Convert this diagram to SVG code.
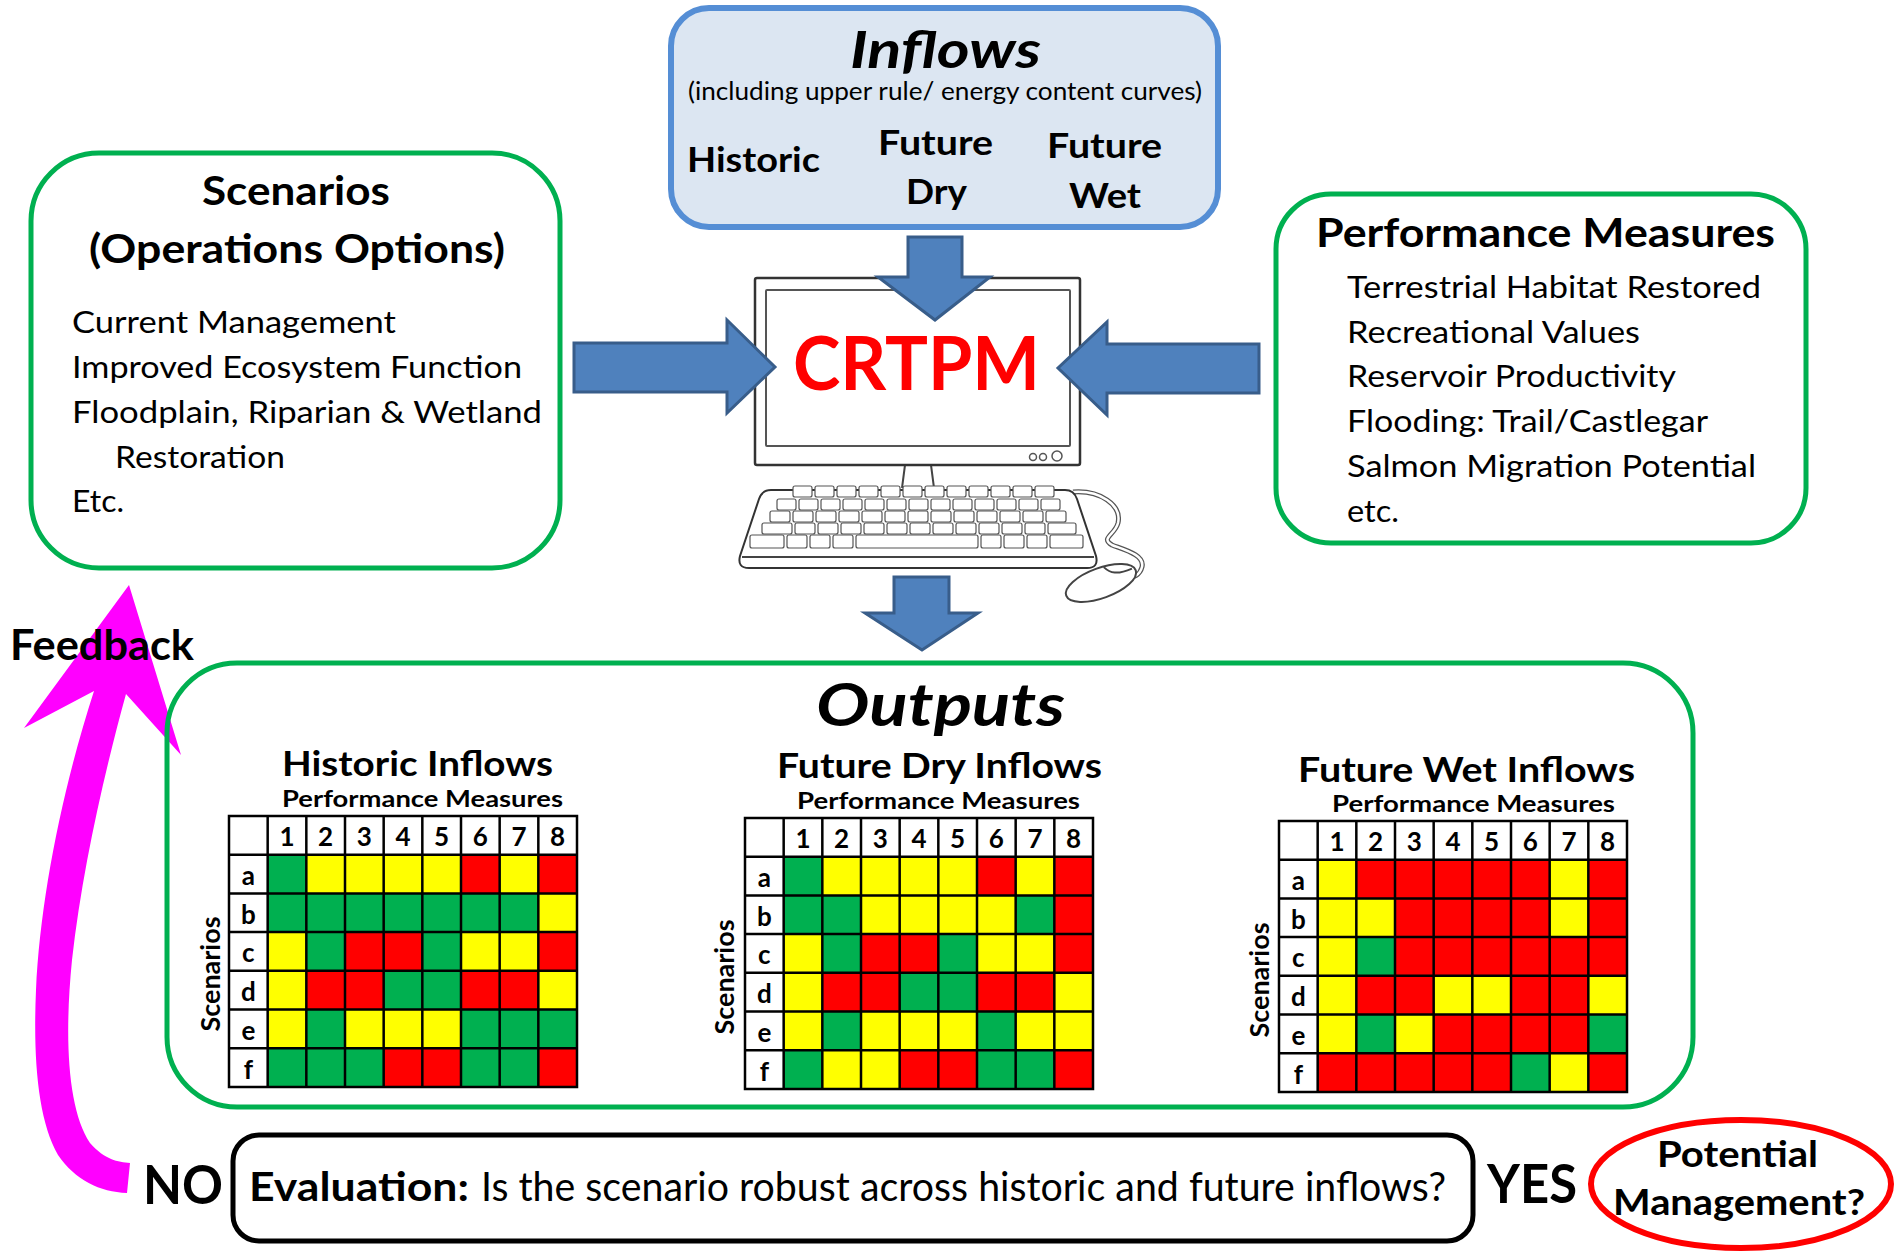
<svg xmlns="http://www.w3.org/2000/svg" xmlns:xlink="http://www.w3.org/1999/xlink" width="1904" height="1251" viewBox="0 0 1904 1251">
<style>
  .t{font-family:Lato,'Open Sans','Liberation Sans',sans-serif;fill:#000}
  .b{font-weight:700}
  .it{font-style:italic}
  .g{fill:#00B050}.y{fill:#FFFF00}.r{fill:#FF0000}
  .grid{fill:none;stroke:#000;stroke-width:2.5;stroke-linecap:square}
  .gbox{fill:#fff;stroke:#00B050;stroke-width:5}
  .arrow{fill:#4F81BD;stroke:#385D8A;stroke-width:3;stroke-linejoin:miter}
  .key{fill:#fff;stroke:#555;stroke-width:1.2}
  .line{fill:none;stroke:#444;stroke-width:2}
  .hd{font-family:Lato,'Open Sans','Liberation Sans',sans-serif;font-size:26px;font-weight:700;text-anchor:middle;fill:#000}
  .item{font-family:Lato,'Open Sans','Liberation Sans',sans-serif;font-size:30px;fill:#000}
</style>
<defs>
  <!-- 9 x 7 table lines, cells 38.67 x 38.7 -->
  <path id="gridlines" class="grid" d="M0,0V270.9M38.67,0V270.9M77.33,0V270.9M116,0V270.9M154.67,0V270.9M193.33,0V270.9M232,0V270.9M270.67,0V270.9M309.33,0V270.9M348,0V270.9M0,0H348M0,38.7H348M0,77.4H348M0,116.1H348M0,154.8H348M0,193.5H348M0,232.2H348M0,270.9H348"/>
</defs>

<rect width="1904" height="1251" fill="#fff"/>

<!-- Inflows -->
<g id="inflows">
  <rect x="671" y="8" width="547" height="219" rx="38" fill="#DCE6F2" stroke="#558ED5" stroke-width="6"/>
  <text class="t b it" x="850" y="68" font-size="52" textLength="191" lengthAdjust="spacingAndGlyphs">Inflows</text>
  <text class="t" x="688" y="100" font-size="25" textLength="514" lengthAdjust="spacingAndGlyphs">(including upper rule/ energy content curves)</text>
  <text class="t b" x="687" y="172" font-size="35" textLength="133" lengthAdjust="spacingAndGlyphs">Historic</text>
  <text class="t b" x="878" y="155" font-size="35" textLength="115" lengthAdjust="spacingAndGlyphs">Future</text>
  <text class="t b" x="906" y="204" font-size="35" textLength="61" lengthAdjust="spacingAndGlyphs">Dry</text>
  <text class="t b" x="1047" y="158" font-size="35" textLength="115" lengthAdjust="spacingAndGlyphs">Future</text>
  <text class="t b" x="1069" y="208" font-size="35" textLength="72" lengthAdjust="spacingAndGlyphs">Wet</text>
</g>

<!-- Scenarios -->
<g id="scenarios">
  <rect class="gbox" x="31" y="153" width="529" height="415" rx="68"/>
  <text class="t b" x="202" y="205" font-size="40" textLength="188" lengthAdjust="spacingAndGlyphs">Scenarios</text>
  <text class="t b" x="89" y="263" font-size="40" textLength="416" lengthAdjust="spacingAndGlyphs">(Operations Options)</text>
  <text class="item" x="72" y="333" textLength="324" lengthAdjust="spacingAndGlyphs">Current Management</text>
  <text class="item" x="72" y="378" textLength="450" lengthAdjust="spacingAndGlyphs">Improved Ecosystem Function</text>
  <text class="item" x="72" y="423" textLength="470" lengthAdjust="spacingAndGlyphs">Floodplain, Riparian &amp; Wetland</text>
  <text class="item" x="115" y="468" textLength="170" lengthAdjust="spacingAndGlyphs">Restoration</text>
  <text class="item" x="72" y="512" textLength="52" lengthAdjust="spacingAndGlyphs">Etc.</text>
</g>

<!-- Performance Measures -->
<g id="performance-measures">
  <rect class="gbox" x="1276" y="194" width="530" height="349" rx="55"/>
  <text class="t b" x="1316" y="247" font-size="40" textLength="459" lengthAdjust="spacingAndGlyphs">Performance Measures</text>
  <text class="item" x="1347" y="298" textLength="414" lengthAdjust="spacingAndGlyphs">Terrestrial Habitat Restored</text>
  <text class="item" x="1347" y="343" textLength="293" lengthAdjust="spacingAndGlyphs">Recreational Values</text>
  <text class="item" x="1347" y="387" textLength="329" lengthAdjust="spacingAndGlyphs">Reservoir Productivity</text>
  <text class="item" x="1347" y="432" textLength="361" lengthAdjust="spacingAndGlyphs">Flooding: Trail/Castlegar</text>
  <text class="item" x="1347" y="477" textLength="409" lengthAdjust="spacingAndGlyphs">Salmon Migration Potential</text>
  <text class="item" x="1347" y="522" textLength="52" lengthAdjust="spacingAndGlyphs">etc.</text>
</g>

<!-- CRTPM computer -->
<g id="crtpm">
  <!-- stand -->
  <path class="line" d="M905,465 L902,488 M931,465 L934,488"/>
  <!-- monitor -->
  <rect x="755" y="278" width="325" height="187" rx="2" fill="#fff" stroke="#333" stroke-width="2.5"/>
  <rect x="766" y="290" width="304" height="156" rx="1" fill="#fff" stroke="#555" stroke-width="2"/>
  <circle cx="1033" cy="457" r="3.5" fill="none" stroke="#555" stroke-width="1.5"/>
  <circle cx="1043" cy="457" r="3.5" fill="none" stroke="#555" stroke-width="1.5"/>
  <circle cx="1057" cy="456" r="5" fill="none" stroke="#555" stroke-width="1.5"/>
  <!-- mouse cable -->
  <path d="M1073,492 C1100,490 1122,505 1118,523 C1115,535 1100,538 1112,545 C1125,550 1145,555 1142,567 C1140,575 1133,578 1128,578" fill="none" stroke="#555" stroke-width="5"/>
  <path d="M1073,492 C1100,490 1122,505 1118,523 C1115,535 1100,538 1112,545 C1125,550 1145,555 1142,567 C1140,575 1133,578 1128,578" fill="none" stroke="#fff" stroke-width="2.5"/>
  <!-- keyboard body -->
  <path d="M771,490 L1065,490 Q1074,490 1077,499 L1096,556 Q1099,568 1087,568 L749,568 Q737,568 740,556 L759,499 Q762,490 771,490 Z" fill="#fff" stroke="#333" stroke-width="2"/>
  <path class="line" d="M742,557 L1094,557" stroke-width="1.5"/>
  <!-- keys -->
  <g>
    <rect class="key" x="793" y="486" width="19" height="11" rx="2"/><rect class="key" x="815" y="486" width="19" height="11" rx="2"/><rect class="key" x="837" y="486" width="19" height="11" rx="2"/><rect class="key" x="859" y="486" width="19" height="11" rx="2"/><rect class="key" x="881" y="486" width="19" height="11" rx="2"/><rect class="key" x="903" y="486" width="19" height="11" rx="2"/><rect class="key" x="925" y="486" width="19" height="11" rx="2"/><rect class="key" x="947" y="486" width="19" height="11" rx="2"/><rect class="key" x="969" y="486" width="19" height="11" rx="2"/><rect class="key" x="991" y="486" width="19" height="11" rx="2"/><rect class="key" x="1013" y="486" width="19" height="11" rx="2"/><rect class="key" x="1035" y="486" width="19" height="11" rx="2"/>
    <rect class="key" x="777" y="499" width="19" height="11" rx="2"/><rect class="key" x="799" y="499" width="19" height="11" rx="2"/><rect class="key" x="821" y="499" width="19" height="11" rx="2"/><rect class="key" x="843" y="499" width="19" height="11" rx="2"/><rect class="key" x="865" y="499" width="19" height="11" rx="2"/><rect class="key" x="887" y="499" width="19" height="11" rx="2"/><rect class="key" x="909" y="499" width="19" height="11" rx="2"/><rect class="key" x="931" y="499" width="19" height="11" rx="2"/><rect class="key" x="953" y="499" width="19" height="11" rx="2"/><rect class="key" x="975" y="499" width="19" height="11" rx="2"/><rect class="key" x="997" y="499" width="19" height="11" rx="2"/><rect class="key" x="1019" y="499" width="19" height="11" rx="2"/><rect class="key" x="1041" y="499" width="19" height="11" rx="2"/>
    <rect class="key" x="770" y="511" width="20" height="11" rx="2"/><rect class="key" x="793" y="511" width="20" height="11" rx="2"/><rect class="key" x="816" y="511" width="20" height="11" rx="2"/><rect class="key" x="839" y="511" width="20" height="11" rx="2"/><rect class="key" x="862" y="511" width="20" height="11" rx="2"/><rect class="key" x="885" y="511" width="20" height="11" rx="2"/><rect class="key" x="908" y="511" width="20" height="11" rx="2"/><rect class="key" x="931" y="511" width="20" height="11" rx="2"/><rect class="key" x="954" y="511" width="20" height="11" rx="2"/><rect class="key" x="977" y="511" width="20" height="11" rx="2"/><rect class="key" x="1000" y="511" width="20" height="11" rx="2"/><rect class="key" x="1023" y="511" width="20" height="11" rx="2"/><rect class="key" x="1046" y="511" width="20" height="11" rx="2"/>
    <rect class="key" x="762" y="523" width="30" height="11" rx="2"/><rect class="key" x="795" y="523" width="20" height="11" rx="2"/><rect class="key" x="818" y="523" width="20" height="11" rx="2"/><rect class="key" x="841" y="523" width="20" height="11" rx="2"/><rect class="key" x="864" y="523" width="20" height="11" rx="2"/><rect class="key" x="887" y="523" width="20" height="11" rx="2"/><rect class="key" x="910" y="523" width="20" height="11" rx="2"/><rect class="key" x="933" y="523" width="20" height="11" rx="2"/><rect class="key" x="956" y="523" width="20" height="11" rx="2"/><rect class="key" x="979" y="523" width="20" height="11" rx="2"/><rect class="key" x="1002" y="523" width="20" height="11" rx="2"/><rect class="key" x="1025" y="523" width="20" height="11" rx="2"/><rect class="key" x="1048" y="523" width="28" height="11" rx="2"/>
    <rect class="key" x="750" y="535" width="34" height="13" rx="2"/><rect class="key" x="787" y="535" width="20" height="13" rx="2"/><rect class="key" x="810" y="535" width="20" height="13" rx="2"/><rect class="key" x="833" y="535" width="20" height="13" rx="2"/><rect class="key" x="856" y="535" width="122" height="13" rx="2"/><rect class="key" x="981" y="535" width="20" height="13" rx="2"/><rect class="key" x="1004" y="535" width="20" height="13" rx="2"/><rect class="key" x="1027" y="535" width="20" height="13" rx="2"/><rect class="key" x="1050" y="535" width="33" height="13" rx="2"/>
  </g>
  <!-- mouse -->
  <g transform="translate(1101,583) rotate(-20)">
    <ellipse cx="0" cy="0" rx="37" ry="15" fill="#fff" stroke="#444" stroke-width="2"/>
    <path class="line" d="M8,-14 C12,-6 18,-2 34,-3" stroke-width="1.5"/>
  </g>
  <text class="t b" x="793" y="390" font-size="74" style="fill:#FF0000" textLength="247" lengthAdjust="spacingAndGlyphs">CRTPM</text>
</g>

<!-- connectors: drawn over the computer, under the outputs frame -->
<g id="connectors">
  <path id="arrow-inflows" class="arrow" d="M908,237 L962,237 L962,277 L990,277 L935,320 L878,277 L908,277 Z"/>
  <path id="arrow-scenarios" class="arrow" d="M574,343 L727,343 L727,320 L775,367 L727,413 L727,392 L574,392 Z"/>
  <path id="arrow-measures" class="arrow" d="M1259,344 L1107,344 L1107,322 L1058,368 L1107,415 L1107,393 L1259,393 Z"/>
  <path id="arrow-outputs" class="arrow" d="M894,577 L949,577 L949,613 L978,613 L922,650 L865,613 L894,613 Z"/>
  <path id="arrow-feedback" fill="#FF00FF" d="M129,585 L181,755 L126,694 C105,770 82,870 72,960 C64,1040 68,1110 90,1143 C105,1160 118,1162 130,1163 L127,1193 C100,1192 75,1180 58,1155 C38,1120 33,1060 36,990 C40,900 62,790 94,691 L24,728 Z"/>
</g>

<!-- Outputs -->
<g id="outputs">
  <rect class="gbox" x="167" y="663" width="1526" height="444" rx="70" style="fill:none"/>
  <text class="t b it" x="816" y="726" font-size="60" textLength="249" lengthAdjust="spacingAndGlyphs">Outputs</text>

  <!-- Historic Inflows table -->
  <g id="table-historic">
    <text class="t b" x="282" y="776" font-size="34" textLength="271" lengthAdjust="spacingAndGlyphs">Historic Inflows</text>
    <text class="t b" x="282" y="807" font-size="23" textLength="281" lengthAdjust="spacingAndGlyphs">Performance Measures</text>
    <g transform="translate(229,816)">
      <rect width="348" height="270.9" fill="#fff"/>
      <rect class="g" x="38.67" y="38.7" width="38.67" height="38.7"/><rect class="y" x="77.33" y="38.7" width="154.67" height="38.7"/><rect class="r" x="232" y="38.7" width="38.67" height="38.7"/><rect class="y" x="270.67" y="38.7" width="38.67" height="38.7"/><rect class="r" x="309.33" y="38.7" width="38.67" height="38.7"/>
      <rect class="g" x="38.67" y="77.4" width="270.67" height="38.7"/><rect class="y" x="309.33" y="77.4" width="38.67" height="38.7"/>
      <rect class="y" x="38.67" y="116.1" width="38.67" height="38.7"/><rect class="g" x="77.33" y="116.1" width="38.67" height="38.7"/><rect class="r" x="116" y="116.1" width="77.33" height="38.7"/><rect class="g" x="193.33" y="116.1" width="38.67" height="38.7"/><rect class="y" x="232" y="116.1" width="77.33" height="38.7"/><rect class="r" x="309.33" y="116.1" width="38.67" height="38.7"/>
      <rect class="y" x="38.67" y="154.8" width="38.67" height="38.7"/><rect class="r" x="77.33" y="154.8" width="77.33" height="38.7"/><rect class="g" x="154.67" y="154.8" width="77.33" height="38.7"/><rect class="r" x="232" y="154.8" width="77.33" height="38.7"/><rect class="y" x="309.33" y="154.8" width="38.67" height="38.7"/>
      <rect class="y" x="38.67" y="193.5" width="38.67" height="38.7"/><rect class="g" x="77.33" y="193.5" width="38.67" height="38.7"/><rect class="y" x="116" y="193.5" width="116" height="38.7"/><rect class="g" x="232" y="193.5" width="116" height="38.7"/>
      <rect class="g" x="38.67" y="232.2" width="116" height="38.7"/><rect class="r" x="154.67" y="232.2" width="77.33" height="38.7"/><rect class="g" x="232" y="232.2" width="77.33" height="38.7"/><rect class="r" x="309.33" y="232.2" width="38.67" height="38.7"/>
      <use xlink:href="#gridlines" href="#gridlines"/>
      <text class="hd" x="58" y="30">1</text><text class="hd" x="96.67" y="30">2</text><text class="hd" x="135.33" y="30">3</text><text class="hd" x="174" y="30">4</text><text class="hd" x="212.67" y="30">5</text><text class="hd" x="251.33" y="30">6</text><text class="hd" x="290" y="30">7</text><text class="hd" x="328.67" y="30">8</text>
      <text class="hd" x="19.33" y="69">a</text><text class="hd" x="19.33" y="107.7">b</text><text class="hd" x="19.33" y="146.4">c</text><text class="hd" x="19.33" y="185.1">d</text><text class="hd" x="19.33" y="223.8">e</text><text class="hd" x="19.33" y="262.5">f</text>
      <text class="hd" transform="translate(-9,158) rotate(-90)" textLength="115" lengthAdjust="spacingAndGlyphs">Scenarios</text>
    </g>
  </g>

  <!-- Future Dry Inflows table -->
  <g id="table-future-dry">
    <text class="t b" x="777" y="778" font-size="34" textLength="325" lengthAdjust="spacingAndGlyphs">Future Dry Inflows</text>
    <text class="t b" x="797" y="809" font-size="23" textLength="283" lengthAdjust="spacingAndGlyphs">Performance Measures</text>
    <g transform="translate(745,818)">
      <rect width="348" height="270.9" fill="#fff"/>
      <rect class="g" x="38.67" y="38.7" width="38.67" height="38.7"/><rect class="y" x="77.33" y="38.7" width="154.67" height="38.7"/><rect class="r" x="232" y="38.7" width="38.67" height="38.7"/><rect class="y" x="270.67" y="38.7" width="38.67" height="38.7"/><rect class="r" x="309.33" y="38.7" width="38.67" height="38.7"/>
      <rect class="g" x="38.67" y="77.4" width="77.33" height="38.7"/><rect class="y" x="116" y="77.4" width="154.67" height="38.7"/><rect class="g" x="270.67" y="77.4" width="38.67" height="38.7"/><rect class="r" x="309.33" y="77.4" width="38.67" height="38.7"/>
      <rect class="y" x="38.67" y="116.1" width="38.67" height="38.7"/><rect class="g" x="77.33" y="116.1" width="38.67" height="38.7"/><rect class="r" x="116" y="116.1" width="77.33" height="38.7"/><rect class="g" x="193.33" y="116.1" width="38.67" height="38.7"/><rect class="y" x="232" y="116.1" width="77.33" height="38.7"/><rect class="r" x="309.33" y="116.1" width="38.67" height="38.7"/>
      <rect class="y" x="38.67" y="154.8" width="38.67" height="38.7"/><rect class="r" x="77.33" y="154.8" width="77.33" height="38.7"/><rect class="g" x="154.67" y="154.8" width="77.33" height="38.7"/><rect class="r" x="232" y="154.8" width="77.33" height="38.7"/><rect class="y" x="309.33" y="154.8" width="38.67" height="38.7"/>
      <rect class="y" x="38.67" y="193.5" width="38.67" height="38.7"/><rect class="g" x="77.33" y="193.5" width="38.67" height="38.7"/><rect class="y" x="116" y="193.5" width="116" height="38.7"/><rect class="g" x="232" y="193.5" width="38.67" height="38.7"/><rect class="y" x="270.67" y="193.5" width="77.33" height="38.7"/>
      <rect class="g" x="38.67" y="232.2" width="38.67" height="38.7"/><rect class="y" x="77.33" y="232.2" width="77.33" height="38.7"/><rect class="r" x="154.67" y="232.2" width="77.33" height="38.7"/><rect class="g" x="232" y="232.2" width="77.33" height="38.7"/><rect class="r" x="309.33" y="232.2" width="38.67" height="38.7"/>
      <use xlink:href="#gridlines" href="#gridlines"/>
      <text class="hd" x="58" y="30">1</text><text class="hd" x="96.67" y="30">2</text><text class="hd" x="135.33" y="30">3</text><text class="hd" x="174" y="30">4</text><text class="hd" x="212.67" y="30">5</text><text class="hd" x="251.33" y="30">6</text><text class="hd" x="290" y="30">7</text><text class="hd" x="328.67" y="30">8</text>
      <text class="hd" x="19.33" y="69">a</text><text class="hd" x="19.33" y="107.7">b</text><text class="hd" x="19.33" y="146.4">c</text><text class="hd" x="19.33" y="185.1">d</text><text class="hd" x="19.33" y="223.8">e</text><text class="hd" x="19.33" y="262.5">f</text>
      <text class="hd" transform="translate(-11,159) rotate(-90)" textLength="115" lengthAdjust="spacingAndGlyphs">Scenarios</text>
    </g>
  </g>

  <!-- Future Wet Inflows table -->
  <g id="table-future-wet">
    <text class="t b" x="1298" y="782" font-size="34" textLength="337" lengthAdjust="spacingAndGlyphs">Future Wet Inflows</text>
    <text class="t b" x="1332" y="812" font-size="23" textLength="283" lengthAdjust="spacingAndGlyphs">Performance Measures</text>
    <g transform="translate(1279,821)">
      <rect width="348" height="270.9" fill="#fff"/>
      <rect class="y" x="38.67" y="38.7" width="38.67" height="38.7"/><rect class="r" x="77.33" y="38.7" width="193.33" height="38.7"/><rect class="y" x="270.67" y="38.7" width="38.67" height="38.7"/><rect class="r" x="309.33" y="38.7" width="38.67" height="38.7"/>
      <rect class="y" x="38.67" y="77.4" width="77.33" height="38.7"/><rect class="r" x="116" y="77.4" width="154.67" height="38.7"/><rect class="y" x="270.67" y="77.4" width="38.67" height="38.7"/><rect class="r" x="309.33" y="77.4" width="38.67" height="38.7"/>
      <rect class="y" x="38.67" y="116.1" width="38.67" height="38.7"/><rect class="g" x="77.33" y="116.1" width="38.67" height="38.7"/><rect class="r" x="116" y="116.1" width="232" height="38.7"/>
      <rect class="y" x="38.67" y="154.8" width="38.67" height="38.7"/><rect class="r" x="77.33" y="154.8" width="77.33" height="38.7"/><rect class="y" x="154.67" y="154.8" width="77.33" height="38.7"/><rect class="r" x="232" y="154.8" width="77.33" height="38.7"/><rect class="y" x="309.33" y="154.8" width="38.67" height="38.7"/>
      <rect class="y" x="38.67" y="193.5" width="38.67" height="38.7"/><rect class="g" x="77.33" y="193.5" width="38.67" height="38.7"/><rect class="y" x="116" y="193.5" width="38.67" height="38.7"/><rect class="r" x="154.67" y="193.5" width="154.67" height="38.7"/><rect class="g" x="309.33" y="193.5" width="38.67" height="38.7"/>
      <rect class="r" x="38.67" y="232.2" width="193.33" height="38.7"/><rect class="g" x="232" y="232.2" width="38.67" height="38.7"/><rect class="y" x="270.67" y="232.2" width="38.67" height="38.7"/><rect class="r" x="309.33" y="232.2" width="38.67" height="38.7"/>
      <use xlink:href="#gridlines" href="#gridlines"/>
      <text class="hd" x="58" y="30">1</text><text class="hd" x="96.67" y="30">2</text><text class="hd" x="135.33" y="30">3</text><text class="hd" x="174" y="30">4</text><text class="hd" x="212.67" y="30">5</text><text class="hd" x="251.33" y="30">6</text><text class="hd" x="290" y="30">7</text><text class="hd" x="328.67" y="30">8</text>
      <text class="hd" x="19.33" y="69">a</text><text class="hd" x="19.33" y="107.7">b</text><text class="hd" x="19.33" y="146.4">c</text><text class="hd" x="19.33" y="185.1">d</text><text class="hd" x="19.33" y="223.8">e</text><text class="hd" x="19.33" y="262.5">f</text>
      <text class="hd" transform="translate(-10,159) rotate(-90)" textLength="115" lengthAdjust="spacingAndGlyphs">Scenarios</text>
    </g>
  </g>
</g>

<!-- Feedback label -->
<g id="feedback-label">
  <text class="t b" x="10" y="660" font-size="42" textLength="184" lengthAdjust="spacingAndGlyphs">Feedback</text>
</g>

<!-- Evaluation -->
<g id="evaluation">
  <rect x="233" y="1135" width="1240" height="106" rx="26" fill="#fff" stroke="#000" stroke-width="5"/>
  <text class="t b" x="249" y="1201" font-size="40" textLength="220" lengthAdjust="spacingAndGlyphs">Evaluation:</text>
  <text class="t" x="481" y="1201" font-size="40" textLength="965" lengthAdjust="spacingAndGlyphs">Is the scenario robust across historic and future inflows?</text>
</g>

<g id="no-label">
  <text class="t b" x="143" y="1204" font-size="54" textLength="80" lengthAdjust="spacingAndGlyphs">NO</text>
</g>
<g id="yes-label">
  <text class="t b" x="1487" y="1203" font-size="54" textLength="90" lengthAdjust="spacingAndGlyphs">YES</text>
</g>

<!-- Potential Management -->
<g id="potential-management">
  <ellipse cx="1741" cy="1184" rx="150" ry="64" fill="#fff" stroke="#FF0000" stroke-width="6"/>
  <text class="t b" x="1657" y="1167" font-size="36" textLength="161" lengthAdjust="spacingAndGlyphs">Potential</text>
  <text class="t b" x="1613" y="1215" font-size="36" textLength="252" lengthAdjust="spacingAndGlyphs">Management?</text>
</g>
</svg>
